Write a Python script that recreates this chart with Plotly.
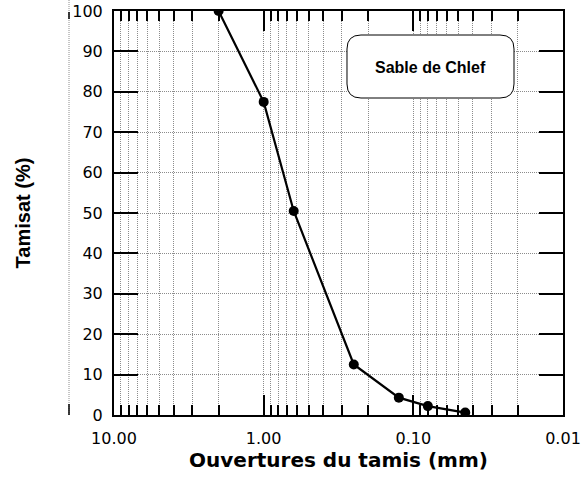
import plotly.graph_objects as go

# Data
ouverture_mm = [2.0, 1.0, 0.63, 0.25, 0.125, 0.08, 0.045]
tamisat_pct = [100, 77.5, 50.5, 12.5, 4.3, 2.2, 0.6]
x_tickvals = [10, 1, 0.1, 0.01]
x_ticktext = ["10.00", "1.00", "0.10", "0.01"]
y_tickvals = list(range(0, 101, 10))
label_text = "Sable de Chlef"

minor_vals = []
for dec in [1, 0.1, 0.01]:
    for k in range(2, 10):
        minor_vals.append(k * dec)

ARIAL = "Liberation Sans, Arial, sans-serif"
WIDE = "DejaVu Sans, sans-serif"
GRID = "#8c8c8c"
GDASH = "1px,1px"

fig = go.Figure()
fig.add_trace(go.Scatter(
    x=ouverture_mm, y=tamisat_pct, mode="lines+markers",
    line=dict(color="black", width=2.2),
    marker=dict(color="black", size=10),
    showlegend=False,
))

W, H = 584, 477
L, R, T, B = 114, 21, 11, 62
pw, ph = W - L - R, H - T - B

def px2paper(x, y):
    return (x - L) / pw, 1 - (y - T) / ph

# rounded rectangle
x0, y0, x1, y1, r = 347, 35, 514, 98, 14
def P(x, y):
    a, b = px2paper(x, y)
    return f"{a:.5f},{b:.5f}"
path = (f"M {P(x0+r,y0)} L {P(x1-r,y0)} Q {P(x1,y0)} {P(x1,y0+r)} "
        f"L {P(x1,y1-r)} Q {P(x1,y1)} {P(x1-r,y1)} L {P(x0+r,y1)} "
        f"Q {P(x0,y1)} {P(x0,y1-r)} L {P(x0,y0+r)} Q {P(x0,y0)} {P(x0+r,y0)} Z")
fig.add_shape(type="path", path=path, xref="paper", yref="paper",
              line=dict(color="black", width=1), fillcolor="white", layer="above")
cx, cy = px2paper((x0 + x1) / 2, (y0 + y1) / 2 + 1)
fig.add_annotation(x=cx, y=cy, xref="paper", yref="paper", text=f"<b>{label_text}</b>",
                   xanchor="center", yanchor="middle",
                   showarrow=False, font=dict(family=ARIAL, size=16, color="black"))

# stray dotted line on the left
lx, _ = px2paper(69, 0)
fig.add_shape(type="line", xref="paper", yref="paper", x0=lx, x1=lx,
              y0=px2paper(0, 415)[1], y1=px2paper(0, 0)[1],
              line=dict(color=GRID, width=1, dash=GDASH))
for ya, yb in [(12, 19), (404, 415)]:
    fig.add_shape(type="line", xref="paper", yref="paper", x0=lx, x1=lx,
                  y0=px2paper(0, yb)[1], y1=px2paper(0, ya)[1],
                  line=dict(color="black", width=1.5))

fig.update_xaxes(
    type="log", range=[1, -2], automargin=False,
    tickvals=x_tickvals, ticktext=x_ticktext,
    ticks="inside", ticklen=20, tickwidth=1.5, tickcolor="black",
    showline=True, linecolor="black", linewidth=2, mirror="allticks",
    showgrid=True, gridcolor=GRID, griddash=GDASH, gridwidth=1,
    minor=dict(tickvals=minor_vals, ticks="inside", ticklen=10, tickwidth=1.5,
               tickcolor="black", showgrid=True, gridcolor=GRID,
               griddash=GDASH, gridwidth=1),
    tickfont=dict(family=WIDE, size=16, color="black"),
    ticklabelstandoff=8,
    title=dict(text="<b>Ouvertures du tamis (mm)</b>",
               font=dict(family=WIDE, size=20, color="black"), standoff=2),
    zeroline=False,
)
fig.update_yaxes(
    range=[0, 100], tickvals=y_tickvals, automargin=False,
    ticks="inside", ticklen=24, tickwidth=1.5, tickcolor="black",
    showline=True, linecolor="black", linewidth=2, mirror="allticks",
    showgrid=True, gridcolor=GRID, griddash=GDASH, gridwidth=1,
    tickfont=dict(family=WIDE, size=16, color="black"),
    ticklabelstandoff=6,
    title=dict(text="<b>Tamisat (%)</b>",
               font=dict(family=ARIAL, size=20, color="black"), standoff=36),
    zeroline=False,
)
fig.update_layout(
    width=W, height=H,
    margin=dict(l=L, r=R, t=T, b=B),
    plot_bgcolor="white", paper_bgcolor="white",
)
fig.write_html("out.html")
